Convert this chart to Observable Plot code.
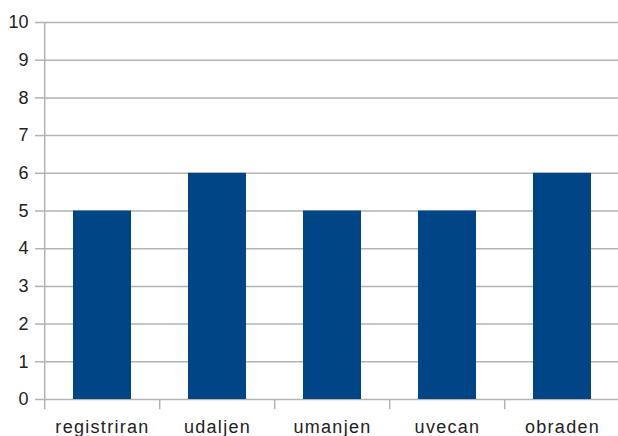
<!DOCTYPE html>
<html>
<head>
<meta charset="utf-8">
<script src="https://cdn.jsdelivr.net/npm/d3@7"></script>
<script src="https://cdn.jsdelivr.net/npm/@observablehq/plot@0.6"></script>
<style>
  html, body { margin: 0; padding: 0; background: #fff; }
  #chart { width: 618px; height: 436px; overflow: hidden; }
</style>
</head>
<body>
<div id="chart"></div>
<script>
const categories = ["registriran", "udaljen", "umanjen", "uvecan", "obraden"];
const values = [5, 6, 5, 5, 6];
const yTicks = [0, 1, 2, 3, 4, 5, 6, 7, 8, 9, 10];

const data = categories.map((c, i) => ({category: c, value: values[i]}));

const W = 618, H = 436;
const mLeft = 43, mRight = -3, mTop = 22, mBottom = 37;
const step = (W - mLeft - mRight) / categories.length;
const grid = "#b3b3b3";
const font = "Liberation Sans, Arial, sans-serif";

const chart = Plot.plot({
  width: W,
  height: H,
  marginLeft: mLeft,
  marginRight: mRight,
  marginTop: mTop,
  marginBottom: mBottom,
  style: {fontFamily: font, fontSize: "18px", color: "#222", background: "#fff", overflow: "visible"},
  x: {domain: categories, paddingInner: 0.5, paddingOuter: 0.25, align: 0.5, label: null},
  y: {domain: [0, 10], label: null},
  marks: [
    Plot.ruleY(yTicks, {y: d => d, stroke: grid, strokeWidth: 1.5}),
    Plot.axisY(yTicks, {tickSize: 8, tickPadding: 7, stroke: grid, strokeWidth: 1.5, fill: "#222", fontSize: 18, label: null}),
    Plot.ruleX(categories, {x: d => d, dx: -step / 2, y1: d => d === categories[0] ? 10 : 0, y2: -0.27, stroke: grid, strokeWidth: 1.5}),
    Plot.barY(data, {x: "category", y: "value", fill: "#004586"}),
    Plot.axisX({tickSize: 0, tickPadding: 21, fill: "#222", fontSize: 18, label: null})
  ]
});
chart.querySelectorAll("[aria-label='x-axis tick label'] text").forEach(t => t.setAttribute("letter-spacing", "1.3"));
document.getElementById("chart").appendChild(chart);
</script>
</body>
</html>
